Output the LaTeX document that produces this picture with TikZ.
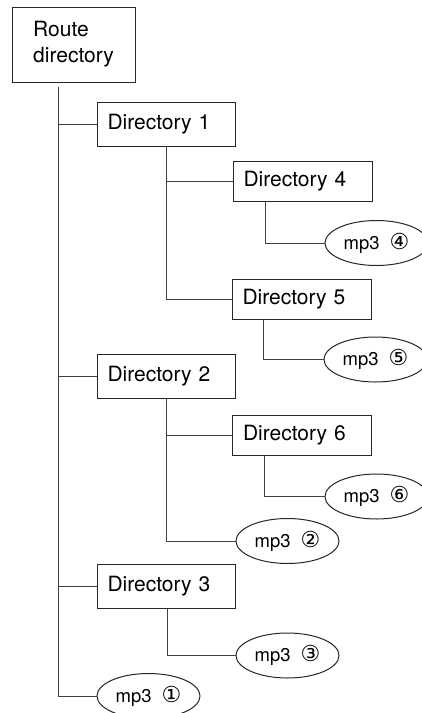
\documentclass[tikz,border=0pt]{standalone}
\usepackage{fontspec}
\setmainfont{TeX Gyre Heros}
\newfontfamily\circfont{DejaVu Sans}
\usetikzlibrary{shapes.geometric}

\tikzset{
  dirbox/.style={draw=black!85, line width=1pt, rectangle, inner xsep=10.5pt,
    text width=117pt, align=left, minimum height=44pt,
    font=\fontsize{21}{26}\selectfont},
  subbox/.style={dirbox, text width=118pt, minimum height=40pt},
  mpfile/.style={draw=black!85, line width=1pt, ellipse, inner sep=0pt,
    minimum width=103pt, minimum height=45pt,
    font=\fontsize{18.5}{22}\selectfont},
  link/.style={draw=black!75, line width=0.9pt}
}
\newcommand{\mpnum}[1]{mp3\hspace{10pt}{\circfont\fontsize{22}{22}\selectfont #1}}

\begin{document}
\begin{tikzpicture}[x=1pt,y=-1pt]
\useasboundingbox (0,0) rectangle (422,713);

% root and directories
\node[draw=black!85, line width=1pt, minimum width=123pt, minimum height=75pt,
  align=left, inner sep=0pt, font=\fontsize{21}{26}\selectfont]
  (root) at (73.5,44.5) {Route\\directory};
\coordinate (trunk) at (58,87);

\node[dirbox] (d1) at (166,124) {Directory 1};
\node[dirbox] (d2) at (166,376) {Directory 2};
\node[dirbox] (d3) at (166,586) {Directory 3};
\node[subbox] (d4) at (302.5,181) {Directory 4};
\node[subbox] (d5) at (301.5,299) {Directory 5};
\node[subbox] (d6) at (302,435) {Directory 6};

% mp3 files
\node[mpfile] (m1) at (148.5,696) {\mpnum{①}};
\node[mpfile] (m2) at (287.5,541) {\mpnum{②}};
\node[mpfile] (m3) at (287.5,655.5) {\mpnum{③}};
\node[mpfile] (m4) at (376.5,243) {\mpnum{④}};
\node[mpfile] (m5) at (375.5,359.5) {\mpnum{⑤}};
\node[mpfile] (m6) at (376.5,496.5) {\mpnum{⑥}};

% trunk
\draw[link] (trunk) |- (m1.west);
\draw[link] (trunk |- d1.west) -- (d1.west);
\draw[link] (trunk |- d2.west) -- (d2.west);
\draw[link] (trunk |- d3.west) -- (d3.west);

% directory 1
\draw[link] ([xshift=70pt]d1.south west) |- (d5.west);
\draw[link] ([xshift=70pt]d1.south west |- d4.west) -- (d4.west);
\draw[link] ([xshift=33pt]d4.south west) |- (m4.west);
\draw[link] ([xshift=32pt]d5.south west) |- (m5.west);

% directory 2
\draw[link] ([xshift=70pt]d2.south west) |- (m2.west);
\draw[link] ([xshift=70pt]d2.south west |- d6.west) -- (d6.west);
\draw[link] ([xshift=32pt]d6.south west) |- (m6.west);

% directory 3
\draw[link] ([xshift=71pt]d3.south west) |- (m3.west);
\end{tikzpicture}
\end{document}
